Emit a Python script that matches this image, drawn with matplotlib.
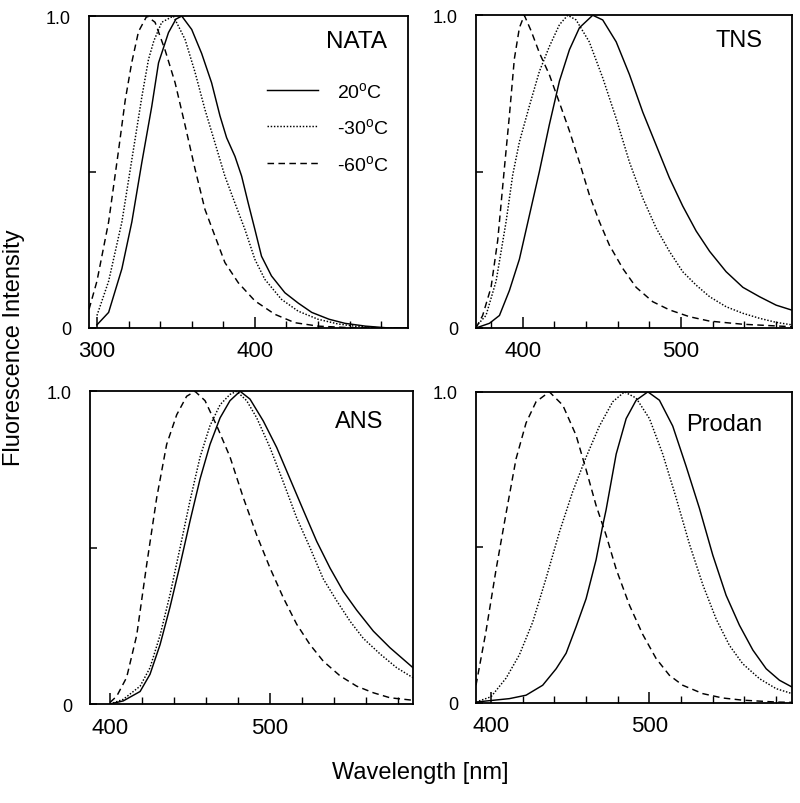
import matplotlib
matplotlib.use("Agg")
import matplotlib.pyplot as plt
from matplotlib.ticker import MultipleLocator

plt.rcParams['font.family'] = ['Liberation Sans', 'DejaVu Sans']
plt.rcParams['mathtext.default'] = 'regular'

# NATA
nata_wl_20 = [300, 307.4, 315.8, 322.1, 328.4, 334.7, 339, 345.3, 350, 353.7, 360, 366.3, 372.6, 377.9,
              382.1, 387.4, 391.6, 395.8, 400, 404.2, 410.5, 419, 427.4, 436, 447, 457, 470, 485, 497]
nata_20 = [0.01, 0.05, 0.19, 0.34, 0.53, 0.71, 0.85, 0.947, 0.99, 1.0, 0.957, 0.88, 0.786, 0.68,
           0.61, 0.55, 0.487, 0.40, 0.316, 0.23, 0.167, 0.113, 0.08, 0.05, 0.028, 0.015, 0.006, 0.0, 0.0]
nata_wl_m30 = [300, 307.4, 315.8, 322.1, 328.4, 332.6, 336, 341, 348.4, 355.8, 362.1, 368.4, 374.7,
               381, 387.4, 393.7, 400, 406.3, 416.8, 427.4, 440, 452.6, 463, 480, 497]
nata_m30 = [0.04, 0.15, 0.34, 0.54, 0.74, 0.86, 0.92, 0.98, 1.0, 0.925, 0.82, 0.70, 0.594,
            0.487, 0.40, 0.316, 0.22, 0.156, 0.092, 0.054, 0.028, 0.013, 0.006, 0.0, 0.0]
nata_wl_m60 = [295, 300, 307.4, 313.7, 317.9, 322, 326.3, 331.6, 336.8, 343.2, 349.5, 355.8,
               362.1, 368.4, 374.7, 381, 389.5, 400, 412.6, 425.3, 440, 460, 497]
nata_m60 = [0.06, 0.15, 0.34, 0.57, 0.73, 0.85, 0.95, 1.0, 0.98, 0.89, 0.786, 0.65,
            0.51, 0.38, 0.295, 0.21, 0.145, 0.087, 0.044, 0.017, 0.006, 0.001, 0.0]

# TNS
tns_wl_20 = [370.5, 379, 385.3, 391.6, 397.9, 404.2, 410.5, 416.8, 423.2, 429.5, 435.8, 444.2, 450.5,
             459, 467.4, 475.8, 484.2, 492.6, 501, 509.5, 518, 528.4, 539, 549.5, 560, 570]
tns_20 = [0.0, 0.015, 0.04, 0.12, 0.22, 0.36, 0.50, 0.65, 0.79, 0.89, 0.96, 1.0, 0.985,
          0.915, 0.81, 0.69, 0.585, 0.48, 0.39, 0.31, 0.245, 0.18, 0.13, 0.10, 0.073, 0.057]
tns_wl_m30 = [370.5, 376.8, 383.2, 389.5, 393.7, 397.9, 404.2, 410.5, 416.8, 423.2, 428.4, 433.7, 442,
              450.5, 459, 467.4, 475.8, 484.2, 492.6, 501, 509.5, 518, 528.4, 539, 549.5, 560, 570]
tns_m30 = [0.005, 0.04, 0.15, 0.34, 0.49, 0.595, 0.71, 0.82, 0.90, 0.97, 1.0, 0.985, 0.915,
           0.80, 0.67, 0.53, 0.415, 0.32, 0.245, 0.18, 0.137, 0.10, 0.068, 0.047, 0.031, 0.018, 0.01]
tns_wl_m60 = [370.5, 374.7, 380, 384.2, 388.4, 391.6, 394.7, 397.9, 401, 405.3, 410.5, 416.8, 423.2,
              429.5, 435.8, 442.1, 448.4, 454.7, 463.2, 471.6, 482.1, 492.6, 505.3, 518, 539, 570]
tns_m60 = [0.0, 0.04, 0.13, 0.28, 0.51, 0.68, 0.86, 0.96, 1.0, 0.95, 0.88, 0.81, 0.72,
           0.63, 0.53, 0.425, 0.34, 0.265, 0.19, 0.13, 0.084, 0.058, 0.036, 0.022, 0.012, 0.004]

# ANS
ans_wl_20 = [400, 408.3, 418.8, 425, 431.3, 437.5, 443.8, 450, 456.3, 462.5, 468.8, 475, 481.3,
             487.5, 495.8, 504.2, 512.5, 520.8, 529.2, 537.5, 545.8, 554.2, 564.6, 575, 589.4]
ans_20 = [0.0, 0.01, 0.04, 0.095, 0.19, 0.31, 0.445, 0.585, 0.72, 0.83, 0.915, 0.97, 1.0,
          0.975, 0.905, 0.82, 0.72, 0.62, 0.52, 0.435, 0.36, 0.30, 0.233, 0.18, 0.116]
ans_wl_m30 = [400, 408.3, 418.8, 425, 431.3, 437.5, 443.8, 450, 456.3, 462.5, 468.8, 475, 479.2,
              485.4, 491.7, 500, 508.3, 516.7, 525, 533.3, 541.7, 550, 558.3, 568.8, 579.2, 589.4]
ans_m30 = [0.0, 0.015, 0.057, 0.116, 0.22, 0.35, 0.50, 0.65, 0.79, 0.89, 0.957, 0.99, 1.0,
           0.97, 0.915, 0.82, 0.71, 0.595, 0.50, 0.40, 0.33, 0.265, 0.21, 0.16, 0.116, 0.084]
ans_wl_m60 = [400, 404.2, 410.4, 416.7, 422.9, 429.2, 435.4, 441.7, 447.9, 453.1, 459.4, 466.7, 475,
              483.3, 491.7, 500, 508.3, 516.7, 525, 533.3, 543.8, 554.2, 564.6, 575, 589.4]
ans_m60 = [0.005, 0.025, 0.085, 0.22, 0.445, 0.66, 0.83, 0.925, 0.984, 1.0, 0.97, 0.89, 0.79,
           0.66, 0.54, 0.435, 0.34, 0.255, 0.19, 0.137, 0.09, 0.057, 0.036, 0.02, 0.012]

# Prodan
prodan_wl_20 = [390.5, 411.6, 422.1, 432.6, 441.1, 447.4, 453.7, 460, 466.3, 470.5, 472.6, 479, 485.3,
                491.6, 499, 506.3, 514.7, 523.2, 531.6, 540, 548.4, 556.8, 565.3, 573.7, 582.1, 590.1]
prodan_20 = [0.003, 0.014, 0.025, 0.057, 0.11, 0.16, 0.245, 0.335, 0.46, 0.57, 0.62, 0.80, 0.914,
             0.973, 1.0, 0.973, 0.89, 0.76, 0.625, 0.475, 0.346, 0.25, 0.17, 0.11, 0.073, 0.051]
prodan_wl_m30 = [390.5, 400, 409.5, 417.9, 426.3, 434.7, 443.2, 451.6, 460, 468.4, 476.8, 484.2,
                 491.6, 500, 508.4, 516.8, 525.3, 533.7, 542.1, 550.5, 558.9, 569.5, 580, 590.1]
prodan_m30 = [0.003, 0.02, 0.08, 0.155, 0.26, 0.40, 0.55, 0.68, 0.79, 0.89, 0.968, 1.0,
              0.98, 0.914, 0.80, 0.66, 0.51, 0.38, 0.27, 0.185, 0.126, 0.078, 0.046, 0.03]
prodan_wl_m60 = [390.5, 396.8, 403.2, 409.5, 415.8, 422.1, 428.4, 436.8, 445.3, 453.7, 460, 466.3,
                 472.6, 479, 487.4, 495.8, 504.2, 512.6, 521, 533.7, 546.3, 558.9, 580, 590.1]
prodan_m60 = [0.057, 0.23, 0.43, 0.61, 0.785, 0.90, 0.968, 1.0, 0.957, 0.86, 0.75, 0.635,
              0.54, 0.43, 0.314, 0.22, 0.143, 0.089, 0.057, 0.03, 0.016, 0.009, 0.003, 0.002]

names = ['NATA', 'TNS', 'ANS', 'Prodan']
temps = ['20$^{o}$C', '-30$^{o}$C', '-60$^{o}$C']
xlims = [(295, 497), (370.5, 570), (387.5, 589.5), (390.5, 590)]

series = [
    [(nata_wl_20, nata_20), (nata_wl_m30, nata_m30), (nata_wl_m60, nata_m60)],
    [(tns_wl_20, tns_20), (tns_wl_m30, tns_m30), (tns_wl_m60, tns_m60)],
    [(ans_wl_20, ans_20), (ans_wl_m30, ans_m30), (ans_wl_m60, ans_m60)],
    [(prodan_wl_20, prodan_20), (prodan_wl_m30, prodan_m30), (prodan_wl_m60, prodan_m60)],
]
styles = ['-', (0, (1, 1.2)), (0, (4.5, 3))]

# axes boxes in figure fraction
boxes = [(0.1113, 0.5908, 0.3988, 0.388),
         (0.595, 0.5908, 0.395, 0.389),
         (0.1125, 0.1231, 0.404, 0.389),
         (0.595, 0.1244, 0.395, 0.387)]
label_pos = [(0.934, 0.92), (0.908, 0.92), (0.907, 0.904), (0.905, 0.897)]

fig = plt.figure(figsize=(8, 8.04), dpi=100)

for i in range(4):
    ax = fig.add_axes(boxes[i])
    for (wl, y), ls, t in zip(series[i], styles, temps):
        ax.plot(wl, y, color='black', lw=1.05, linestyle=ls, label=t)
    ax.set_xlim(*xlims[i])
    ax.set_ylim(0, 1.0)
    ax.xaxis.set_major_locator(MultipleLocator(100))
    ax.xaxis.set_minor_locator(MultipleLocator(20))
    ax.set_yticks([0, 0.5, 1.0])
    ax.set_yticklabels(['0', '', '1.0'])
    ax.tick_params(axis='x', which='major', direction='in', length=8, width=1.1,
                   labelsize=16, pad=9)
    ax.tick_params(axis='x', which='minor', direction='in', length=5, width=1.0)
    ax.tick_params(axis='y', direction='in', length=5, width=1.1, labelsize=13, pad=13)
    for sp in ax.spines.values():
        sp.set_linewidth(1.3)
    ax.text(label_pos[i][0], label_pos[i][1], names[i], transform=ax.transAxes,
            ha='right', va='center', fontsize=17.5 if i == 0 else 17)
    if i == 0:
        ax.legend(loc='upper left', bbox_to_anchor=(0.558, 0.793), frameon=False,
                  fontsize=14, handlelength=2.6, handletextpad=1.0, labelspacing=0.85,
                  borderpad=0, borderaxespad=0)

fig.text(0.018, 0.568, 'Fluorescence Intensity', rotation=90, ha='center', va='center', fontsize=17)
fig.text(0.525, 0.0386, 'Wavelength [nm]', ha='center', va='center', fontsize=17)

fig.savefig('out.png', dpi=100, facecolor='white')
